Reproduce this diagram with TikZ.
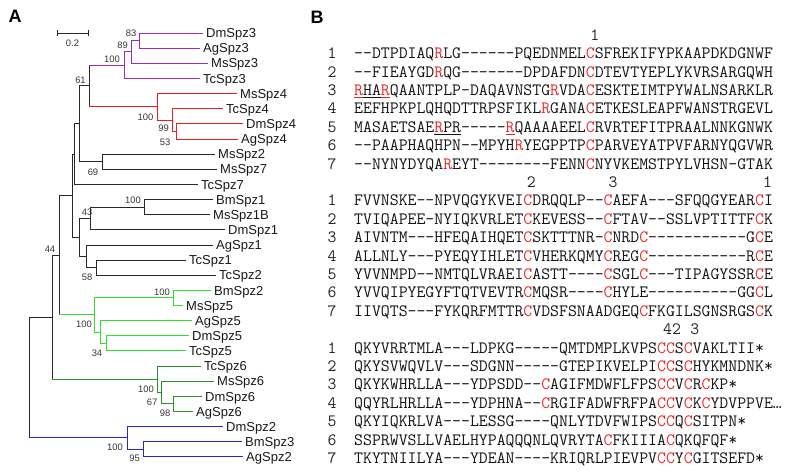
\documentclass[tikz,border=0pt]{standalone}
\usepackage{fontspec}
\setsansfont{Liberation Sans}
\usepackage{xcolor}
\definecolor{treegray}{RGB}{40,40,40}
\definecolor{bsgray}{RGB}{55,55,55}
\definecolor{purp}{RGB}{155,45,190}
\definecolor{tred}{RGB}{235,30,30}
\definecolor{lgreen}{RGB}{45,225,45}
\definecolor{dgreen}{RGB}{40,145,40}
\definecolor{tblue}{RGB}{40,40,205}
\definecolor{seqred}{RGB}{235,40,40}
\newcommand\rc[1]{\textcolor{seqred}{#1}}
\newcommand\seqfont{\ttfamily\fontsize{17.3}{18}\selectfont}
\newcommand\tipfont{\sffamily\fontsize{13}{14}\selectfont}
\newcommand\bsfont{\sffamily\fontsize{9.4}{10}\selectfont}
\begin{document}
\begin{tikzpicture}[x=1pt,y=-1pt,
  edge/.style={line width=1pt, draw=treegray},
  tiplab/.style={anchor=base west, inner sep=0pt, xshift=3pt, yshift=-4.6pt, font=\tipfont, text=black!90},
  bs/.style={font=\bsfont, text=bsgray, inner sep=0pt},
  seq/.style={font=\seqfont, inner sep=0pt, anchor=base west, text=black!92},
  rnum/.style={font=\seqfont, inner sep=0pt, anchor=base, text=black!85},
  panel/.style={font=\sffamily\bfseries\fontsize{18}{20}\selectfont, inner sep=0pt}]
\path[use as bounding box, fill=white] (0,0) rectangle (800,474);

% panel labels
\node[panel] (pA) at (15,16.5) {A};
\node[panel] (pB) at (317,17) {B};

% scale bar
\coordinate (sb1) at (57,33);
\coordinate (sb2) at (88,33);
\draw[edge] (sb1) -- (sb2);
\draw[edge] ([yshift=3pt]sb1) -- ([yshift=-3pt]sb1);
\draw[edge] ([yshift=3pt]sb2) -- ([yshift=-3pt]sb2);
\node[bs] (sblab) at (72.5,43.5) {0.2};

% tips
\coordinate (t0) at (203,33.0);
\coordinate (t1) at (200,48.1);
\coordinate (t2) at (208,63.3);
\coordinate (t3) at (200,78.4);
\coordinate (t4) at (237,93.6);
\coordinate (t5) at (223,108.7);
\coordinate (t6) at (243,123.8);
\coordinate (t7) at (238,139.0);
\coordinate (t8) at (215,154.1);
\coordinate (t9) at (217,169.3);
\coordinate (t10) at (198,184.4);
\coordinate (t11) at (213,199.5);
\coordinate (t12) at (210,214.7);
\coordinate (t13) at (225,229.8);
\coordinate (t14) at (213,245.0);
\coordinate (t15) at (186,260.1);
\coordinate (t16) at (216,275.2);
\coordinate (t17) at (211,290.4);
\coordinate (t18) at (183,305.5);
\coordinate (t19) at (192,320.7);
\coordinate (t20) at (189,335.8);
\coordinate (t21) at (186,350.9);
\coordinate (t22) at (201,366.1);
\coordinate (t23) at (214,381.2);
\coordinate (t24) at (202,396.4);
\coordinate (t25) at (193,411.5);
\coordinate (t26) at (223,426.6);
\coordinate (t27) at (242,441.8);
\coordinate (t28) at (243,456.9);

% internal nodes
\coordinate (p1) at (139,40.55);
\coordinate (p2) at (131,51.9);
\coordinate (p3) at (124,65.15);
\coordinate (r3) at (176,131.4);
\coordinate (r2) at (172,120.05);
\coordinate (r1) at (157,106.8);
\coordinate (n61) at (89,85.98);
\coordinate (n69) at (102,161.7);
\coordinate (nA) at (79,123.84);
\coordinate (nB) at (74,154.1);
\coordinate (b1) at (144,207.1);
\coordinate (n43) at (90,218.45);
\coordinate (n58) at (96,267.65);
\coordinate (nF) at (86,256.3);
\coordinate (nD) at (79,237.4);
\coordinate (nC) at (72,195.75);
\coordinate (g1) at (173,297.95);
\coordinate (g3) at (106,343.35);
\coordinate (g2) at (100,332.0);
\coordinate (g0) at (94,314.98);
\coordinate (nH) at (59,255.4);
\coordinate (d3) at (173,403.95);
\coordinate (d2) at (161,392.6);
\coordinate (d1) at (157,379.35);
\coordinate (nI) at (52,317.4);
\coordinate (bl2) at (143,449.35);
\coordinate (bl1) at (127,437.98);
\coordinate (root) at (29,377.7);

% purple clade
\draw[edge,draw=purp] (p1) |- (t0) (p1) |- (t1) (p2) |- (p1) (p2) |- (t2) (p3) |- (p2) (p3) |- (t3);
% red clade
\draw[edge,draw=tred] (r3) |- (t6) (r3) |- (t7) (r2) |- (t5) (r2) |- (r3) (r1) |- (t4) (r1) |- (r2);
% node 61
\draw[edge] (n61 |- p3) -- (n61 |- r1);
\draw[edge,draw=purp] (n61 |- p3) -- (p3);
\draw[edge,draw=tred] (n61 |- r1) -- (r1);
% black part
\draw[edge] (n69) |- (t8) (n69) |- (t9)
  (nA) |- (n61) (nA) |- (n69)
  (nB) |- (nA) (nB) |- (t10)
  (b1) |- (t11) (b1) |- (t12)
  (n43) |- (b1) (n43) |- (t13)
  (n58) |- (t15) (n58) |- (t16)
  (nF) |- (t14) (nF) |- (n58)
  (nD) |- (n43) (nD) |- (nF)
  (nC) |- (nB) (nC) |- (nD)
  (nH) |- (nC) (nI) |- (nH) (root) |- (nI);
\draw[edge] (nH) -- (nH |- g0);
\draw[edge] (nI) -- (nI |- d1);
\draw[edge] (root) -- (root |- bl1);
% light green clade
\draw[edge,draw=lgreen] (nH |- g0) -- (g0)
  (g0) |- (g1) (g0) |- (g2) (g1) |- (t17) (g1) |- (t18)
  (g2) |- (t19) (g2) |- (g3) (g3) |- (t20) (g3) |- (t21);
% dark green clade
\draw[edge,draw=dgreen] (nI |- d1) -- (d1)
  (d1) |- (t22) (d1) |- (d2) (d2) |- (t23) (d2) |- (d3) (d3) |- (t24) (d3) |- (t25);
% blue clade
\draw[edge,draw=tblue] (root |- bl1) -- (bl1)
  (bl1) |- (t26) (bl1) |- (bl2) (bl2) |- (t27) (bl2) |- (t28);

% tip labels
\node[tiplab] (l0) at (t0) {DmSpz3};
\node[tiplab] (l1) at (t1) {AgSpz3};
\node[tiplab] (l2) at (t2) {MsSpz3};
\node[tiplab] (l3) at (t3) {TcSpz3};
\node[tiplab] (l4) at (t4) {MsSpz4};
\node[tiplab] (l5) at (t5) {TcSpz4};
\node[tiplab] (l6) at (t6) {DmSpz4};
\node[tiplab] (l7) at (t7) {AgSpz4};
\node[tiplab] (l8) at (t8) {MsSpz2};
\node[tiplab] (l9) at (t9) {MsSpz7};
\node[tiplab] (l10) at (t10) {TcSpz7};
\node[tiplab] (l11) at (t11) {BmSpz1};
\node[tiplab] (l12) at (t12) {MsSpz1B};
\node[tiplab] (l13) at (t13) {DmSpz1};
\node[tiplab] (l14) at (t14) {AgSpz1};
\node[tiplab] (l15) at (t15) {TcSpz1};
\node[tiplab] (l16) at (t16) {TcSpz2};
\node[tiplab] (l17) at (t17) {BmSpz2};
\node[tiplab] (l18) at (t18) {MsSpz5};
\node[tiplab] (l19) at (t19) {AgSpz5};
\node[tiplab] (l20) at (t20) {DmSpz5};
\node[tiplab] (l21) at (t21) {TcSpz5};
\node[tiplab] (l22) at (t22) {TcSpz6};
\node[tiplab] (l23) at (t23) {MsSpz6};
\node[tiplab] (l24) at (t24) {DmSpz6};
\node[tiplab] (l25) at (t25) {AgSpz6};
\node[tiplab] (l26) at (t26) {DmSpz2};
\node[tiplab] (l27) at (t27) {BmSpz3};
\node[tiplab] (l28) at (t28) {AgSpz2};

% bootstrap values
\node[bs] (bs83) at (131,33) {83};
\node[bs] (bs89) at (122.5,45) {89};
\node[bs] (bs100a) at (112,59.5) {100};
\node[bs] (bs61) at (80.5,80) {61};
\node[bs] (bs100b) at (145.5,117) {100};
\node[bs] (bs99) at (163.5,128.3) {99};
\node[bs] (bs53) at (165,142) {53};
\node[bs] (bs69) at (93,172) {69};
\node[bs] (bs100c) at (133,200.5) {100};
\node[bs] (bs43) at (87,212) {43};
\node[bs] (bs58) at (87,277.5) {58};
\node[bs] (bs44) at (50,249) {44};
\node[bs] (bs100d) at (162,292) {100};
\node[bs] (bs100e) at (84,324) {100};
\node[bs] (bs34) at (97,353) {34};
\node[bs] (bs100f) at (146,389) {100};
\node[bs] (bs67) at (152,402) {67};
\node[bs] (bs98) at (165,413) {98};
\node[bs] (bs100g) at (115,447) {100};
\node[bs] (bs95) at (134.5,458) {95};

% ---- alignment ----
% block 1
\node[rnum] (c1a) at ({354+26.5*9.09},{35+5.3}) {1};
\foreach \i in {1,...,7} {\node[rnum] (ra\i) at (332,{35+18.4*\i+5.3}) {\i};}
\node[seq] (sa1) at (354,{35+18.4*1+5.3}) {--DTPDIAQ\rc{R}LG------PQEDNMEL\rc{C}SFREKIFYPKAAPDKDGNWF};
\node[seq] (sa2) at (354,{35+18.4*2+5.3}) {--FIEAYGD\rc{R}QG-------DPDAFDN\rc{C}DTEVTYEPLYKVRSARGQWH};
\node[seq] (sa3) at (354,{35+18.4*3+5.3}) {\rc{\underline{R}}\underline{HA}\rc{\underline{R}}QAANTPLP-DAQAVNSTG\rc{R}VDA\rc{C}ESKTEIMTPYWALNSARKLR};
\node[seq] (sa4) at (354,{35+18.4*4+5.3}) {EEFHPKPLQHQDTTRPSFIKL\rc{R}GANA\rc{C}ETKESLEAPFWANSTRGEVL};
\node[seq] (sa5) at (354,{35+18.4*5+5.3}) {MASAETSAE\underline{\rc{R}PR}-----\rc{\underline{R}}QAAAAEEL\rc{C}RVRTEFITPRAALNNKGNWK};
\node[seq] (sa6) at (354,{35+18.4*6+5.3}) {--PAAPHAQHPN--MPYH\rc{R}YEGPPTP\rc{C}PARVEYATPVFARNYQGVWR};
\node[seq] (sa7) at (354,{35+18.4*7+5.3}) {--NYNYDYQA\rc{R}EYT--------FENN\rc{C}NYVKEMSTPYLVHSN-GTAK};
% block 2
\node[rnum] (c2a) at ({354+19.5*9.09},{35+18.4*8+5.3}) {2};
\node[rnum] (c2b) at ({354+28.5*9.09},{35+18.4*8+5.3}) {3};
\node[rnum] (c2c) at ({354+45.5*9.09},{35+18.4*8+5.3}) {1};
\foreach \i in {1,...,7} {\node[rnum] (rb\i) at (332,{35+18.4*(\i+8)+5.3}) {\i};}
\node[seq] (sb1) at (354,{35+18.4*9+5.3}) {FVVNSKE--NPVQGYKVEI\rc{C}DRQQLP--\rc{C}AEFA---SFQQGYEAR\rc{C}I};
\node[seq] (sb2) at (354,{35+18.4*10+5.3}) {TVIQAPEE-NYIQKVRLET\rc{C}KEVESS--\rc{C}FTAV--SSLVPTITTF\rc{C}K};
\node[seq] (sb3) at (354,{35+18.4*11+5.3}) {AIVNTM---HFEQAIHQET\rc{C}SKTTTNR-\rc{C}NRD\rc{C}-----------G\rc{C}E};
\node[seq] (sb4) at (354,{35+18.4*12+5.3}) {ALLNLY---PYEQYIHLET\rc{C}VHERKQMY\rc{C}REG\rc{C}-----------R\rc{C}E};
\node[seq] (sb5) at (354,{35+18.4*13+5.3}) {YVVNMPD--NMTQLVRAEI\rc{C}ASTT----\rc{C}SGL\rc{C}---TIPAGYSSR\rc{C}E};
\node[seq] (sb6) at (354,{35+18.4*14+5.3}) {YVVQIPYEGYFTQTVEVTR\rc{C}MQSR----\rc{C}HYLE----------GG\rc{C}L};
\node[seq] (sb7) at (354,{35+18.4*15+5.3}) {IIVQTS---FYKQRFMTTR\rc{C}VDSFSNAADGEQ\rc{C}FKGILSGNSRGS\rc{C}K};
% block 3
\node[rnum] (c3a) at ({354+34.5*9.09},{35+18.4*16+5.3}) {4};
\node[rnum] (c3b) at ({354+35.5*9.09},{35+18.4*16+5.3}) {2};
\node[rnum] (c3c) at ({354+37.5*9.09},{35+18.4*16+5.3}) {3};
\foreach \i in {1,...,7} {\node[rnum] (rc\i) at (332,{35+18.4*(\i+16)+5.3}) {\i};}
\node[seq] (sc1) at (354,{35+18.4*17+5.3}) {QKYVRRTMLA---LDPKG-----QMTDMPLKVPS\rc{CC}S\rc{C}VAKLTII*};
\node[seq] (sc2) at (354,{35+18.4*18+5.3}) {QKYSVWQVLV---SDGNN-----GTEPIKVELPI\rc{CC}S\rc{C}HYKMNDNK*};
\node[seq] (sc3) at (354,{35+18.4*19+5.3}) {QKYKWHRLLA---YDPSDD--\rc{C}AGIFMDWFLFPS\rc{CC}V\rc{C}R\rc{C}KP*};
\node[seq] (sc4) at (354,{35+18.4*20+5.3}) {QQYRLHRLLA---YDPHNA--\rc{C}RGIFADWFRFPA\rc{CC}V\rc{C}K\rc{C}YDVPPVE…};
\node[seq] (sc5) at (354,{35+18.4*21+5.3}) {QKYIQKRLVA---LESSG----QNLYTDVFWIPS\rc{CC}Q\rc{C}SITPN*};
\node[seq] (sc6) at (354,{35+18.4*22+5.3}) {SSPRWVSLLVAELHYPAQQQNLQVRYTA\rc{C}FKIIIA\rc{C}QKQFQF*};
\node[seq] (sc7) at (354,{35+18.4*23+5.3}) {TKYTNIILYA---YDEAN----KRIQRLPIEVPV\rc{CC}Y\rc{C}GITSEFD*};
\end{tikzpicture}
\end{document}
